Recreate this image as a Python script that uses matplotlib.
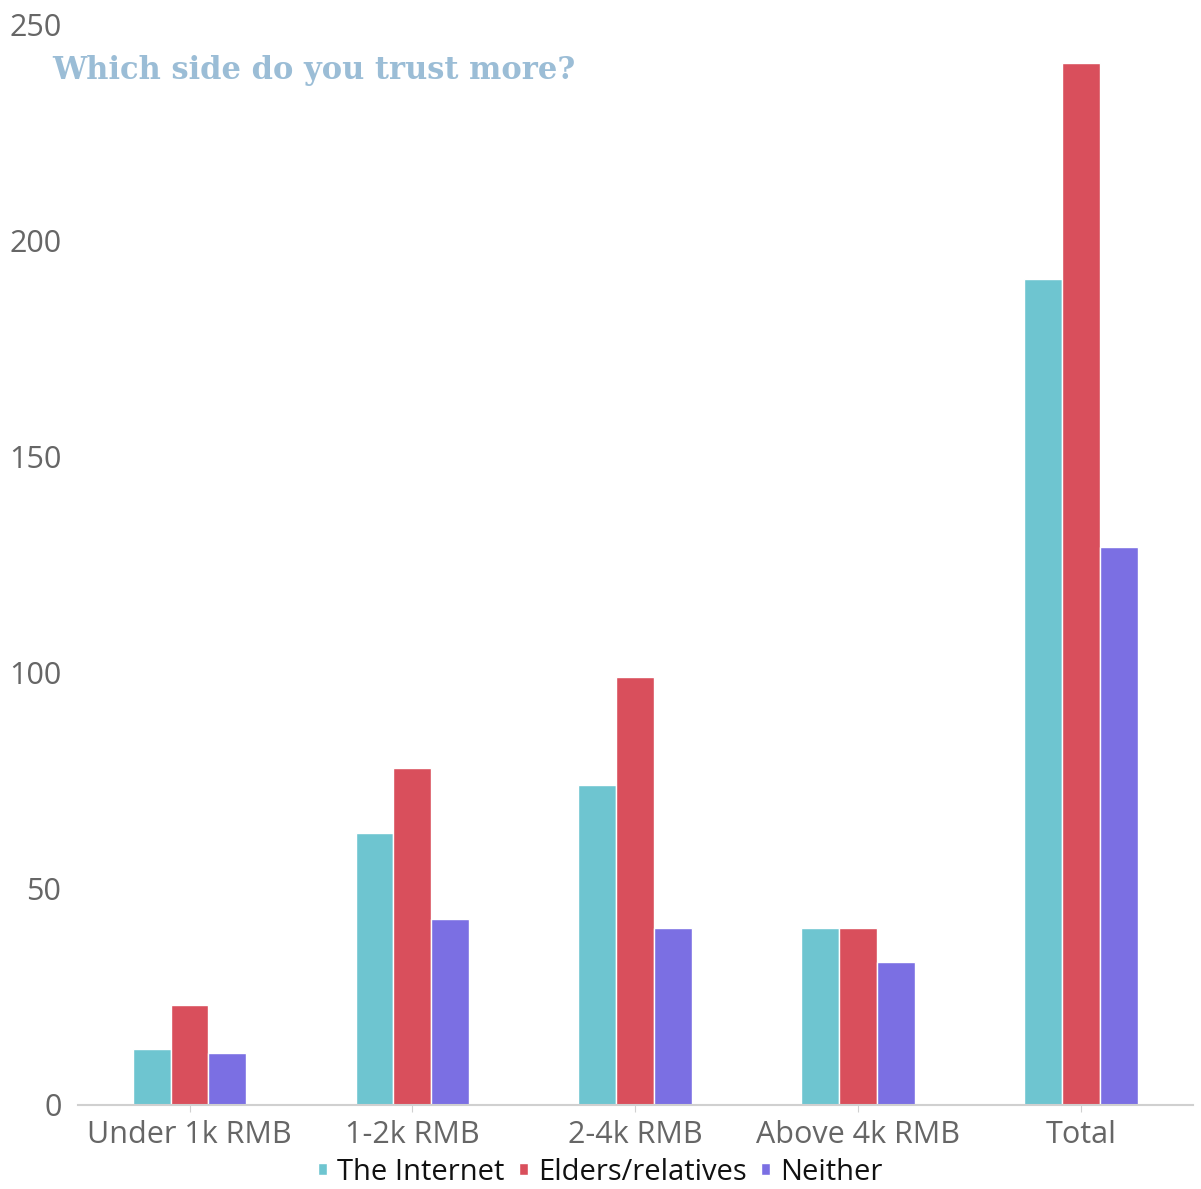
import matplotlib
matplotlib.use("Agg")
import matplotlib.pyplot as plt
import numpy as np

categories = ["Under 1k RMB", "1-2k RMB", "2-4k RMB", "Above 4k RMB", "Total"]
internet = [13, 63, 74, 41, 191]
elders = [23, 78, 99, 41, 241]
neither = [12, 43, 41, 33, 129]
series_names = ["The Internet", "Elders/relatives", "Neither"]
colors = ["#6EC5D0", "#D94F5C", "#7B6FE3"]
yticks = [0, 50, 100, 150, 200, 250]

plt.rcParams['font.family'] = ['Open Sans', 'DejaVu Sans']

fig = plt.figure(figsize=(12.01, 11.89), dpi=100)
ax = fig.add_axes([0.065, 0.0707, 0.928, 0.9091])

x = np.arange(len(categories))
w = 0.17
for i, (vals, name, c) in enumerate(zip([internet, elders, neither], series_names, colors)):
    ax.bar(x + (i - 1) * w, vals, width=w, color=c, edgecolor="white", linewidth=1, label=name, zorder=2)

ax.set_xlim(-0.5, 4.5)
ax.set_ylim(0, 250)
ax.set_yticks(yticks)
ax.set_xticks(x)
ax.set_xticklabels(categories)
for s in ["top", "right", "left"]:
    ax.spines[s].set_visible(False)
ax.spines["bottom"].set_color("#d0d0d0")
ax.spines["bottom"].set_linewidth(1.5)
ax.tick_params(axis="y", length=0, labelsize=22, labelcolor="#666666", pad=12)
ax.tick_params(axis="x", length=5, color="#d0d0d0", labelsize=22, labelcolor="#666666", pad=6)

fig.text(52 / 1201, 1 - 70 / 1189, "Which side do you trust more?", family=["DejaVu Serif"],
         fontweight="bold", fontsize=22, color="#9BBDD6", va="center", ha="left")

leg = fig.legend(loc="center", bbox_to_anchor=(0.5, 1 - 1172 / 1189), ncol=3, frameon=False,
                 fontsize=21, handlelength=0.3, handleheight=0.3, handletextpad=0.35,
                 columnspacing=0.5, borderpad=0.1)
for t in leg.get_texts():
    t.set_color("#111111")

fig.savefig("out.png", dpi=100)
